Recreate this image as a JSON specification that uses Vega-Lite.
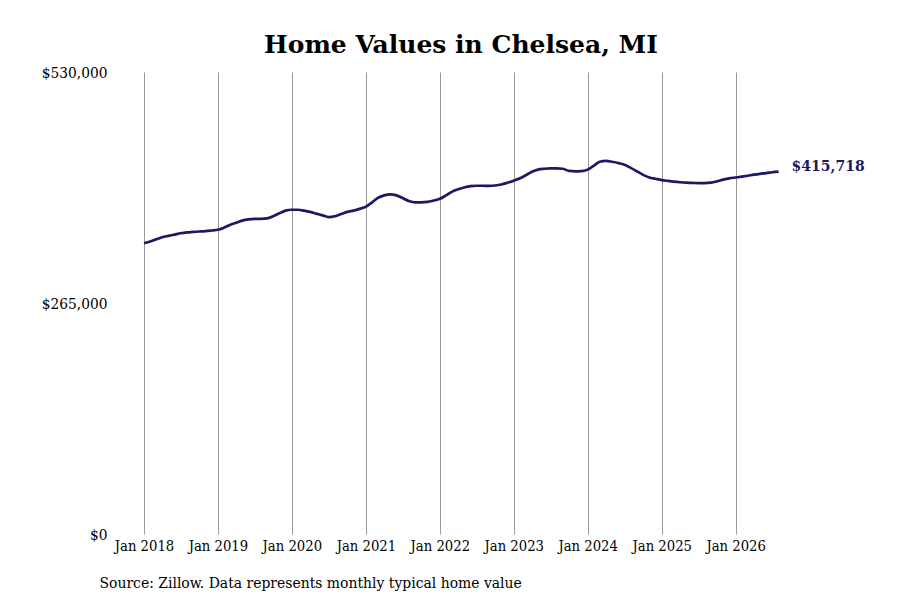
{
  "$schema": "https://vega.github.io/schema/vega-lite/v6.json",
  "autosize": "none",
  "width": 668,
  "height": 462,
  "padding": {"left": 112, "top": 72, "right": 120, "bottom": 66},
  "background": "white",
  "title": {
    "text": "Home Values in Chelsea, MI",
    "font": "DejaVu Serif",
    "fontSize": 25,
    "fontWeight": "bold",
    "color": "#000000",
    "anchor": "middle",
    "frame": "group",
    "dx": 15,
    "offset": 17,
    "dy": 10
  },
  "data": {
    "values": [
      {"date": "2018-01-01T00:00", "value": 333500},
      {"date": "2018-02-01T00:00", "value": 335500},
      {"date": "2018-03-01T00:00", "value": 338000},
      {"date": "2018-04-01T00:00", "value": 340500},
      {"date": "2018-05-01T00:00", "value": 342000},
      {"date": "2018-06-01T00:00", "value": 343500},
      {"date": "2018-07-01T00:00", "value": 345000},
      {"date": "2018-08-01T00:00", "value": 346000},
      {"date": "2018-09-01T00:00", "value": 346500},
      {"date": "2018-10-01T00:00", "value": 347000},
      {"date": "2018-11-01T00:00", "value": 347500},
      {"date": "2018-12-01T00:00", "value": 348200},
      {"date": "2019-01-01T00:00", "value": 349000},
      {"date": "2019-02-01T00:00", "value": 351500},
      {"date": "2019-03-01T00:00", "value": 354500},
      {"date": "2019-04-01T00:00", "value": 357000},
      {"date": "2019-05-01T00:00", "value": 359500},
      {"date": "2019-06-01T00:00", "value": 361000},
      {"date": "2019-07-01T00:00", "value": 361500},
      {"date": "2019-08-01T00:00", "value": 361500},
      {"date": "2019-09-01T00:00", "value": 362000},
      {"date": "2019-10-01T00:00", "value": 364500},
      {"date": "2019-11-01T00:00", "value": 368000},
      {"date": "2019-12-01T00:00", "value": 371000},
      {"date": "2020-01-01T00:00", "value": 372000},
      {"date": "2020-02-01T00:00", "value": 372000},
      {"date": "2020-03-01T00:00", "value": 371000},
      {"date": "2020-04-01T00:00", "value": 369500},
      {"date": "2020-05-01T00:00", "value": 367500},
      {"date": "2020-06-01T00:00", "value": 365500},
      {"date": "2020-07-01T00:00", "value": 363500},
      {"date": "2020-08-01T00:00", "value": 364500},
      {"date": "2020-09-01T00:00", "value": 367000},
      {"date": "2020-10-01T00:00", "value": 369500},
      {"date": "2020-11-01T00:00", "value": 371000},
      {"date": "2020-12-01T00:00", "value": 373000},
      {"date": "2021-01-01T00:00", "value": 375500},
      {"date": "2021-02-01T00:00", "value": 380500},
      {"date": "2021-03-01T00:00", "value": 385500},
      {"date": "2021-04-01T00:00", "value": 388500},
      {"date": "2021-05-01T00:00", "value": 389700},
      {"date": "2021-06-01T00:00", "value": 388500},
      {"date": "2021-07-01T00:00", "value": 385500},
      {"date": "2021-08-01T00:00", "value": 382000},
      {"date": "2021-09-01T00:00", "value": 380500},
      {"date": "2021-10-01T00:00", "value": 380500},
      {"date": "2021-11-01T00:00", "value": 381000},
      {"date": "2021-12-01T00:00", "value": 382500},
      {"date": "2022-01-01T00:00", "value": 384500},
      {"date": "2022-02-01T00:00", "value": 388500},
      {"date": "2022-03-01T00:00", "value": 392500},
      {"date": "2022-04-01T00:00", "value": 395500},
      {"date": "2022-05-01T00:00", "value": 397500},
      {"date": "2022-06-01T00:00", "value": 399000},
      {"date": "2022-07-01T00:00", "value": 399500},
      {"date": "2022-08-01T00:00", "value": 399500},
      {"date": "2022-09-01T00:00", "value": 399300},
      {"date": "2022-10-01T00:00", "value": 399800},
      {"date": "2022-11-01T00:00", "value": 401000},
      {"date": "2022-12-01T00:00", "value": 403000},
      {"date": "2023-01-01T00:00", "value": 405300},
      {"date": "2023-02-01T00:00", "value": 408000},
      {"date": "2023-03-01T00:00", "value": 411500},
      {"date": "2023-04-01T00:00", "value": 415500},
      {"date": "2023-05-01T00:00", "value": 418000},
      {"date": "2023-06-01T00:00", "value": 419000},
      {"date": "2023-07-01T00:00", "value": 419500},
      {"date": "2023-08-01T00:00", "value": 419500},
      {"date": "2023-09-01T00:00", "value": 419000},
      {"date": "2023-10-01T00:00", "value": 416500},
      {"date": "2023-11-01T00:00", "value": 416000},
      {"date": "2023-12-01T00:00", "value": 416200},
      {"date": "2024-01-01T00:00", "value": 418000},
      {"date": "2024-02-01T00:00", "value": 422500},
      {"date": "2024-03-01T00:00", "value": 427000},
      {"date": "2024-04-01T00:00", "value": 428000},
      {"date": "2024-05-01T00:00", "value": 427000},
      {"date": "2024-06-01T00:00", "value": 425500},
      {"date": "2024-07-01T00:00", "value": 423500},
      {"date": "2024-08-01T00:00", "value": 420000},
      {"date": "2024-09-01T00:00", "value": 416000},
      {"date": "2024-10-01T00:00", "value": 412000},
      {"date": "2024-11-01T00:00", "value": 409000},
      {"date": "2024-12-01T00:00", "value": 407500},
      {"date": "2025-01-01T00:00", "value": 406000},
      {"date": "2025-02-01T00:00", "value": 405000},
      {"date": "2025-03-01T00:00", "value": 404200},
      {"date": "2025-04-01T00:00", "value": 403500},
      {"date": "2025-05-01T00:00", "value": 403000},
      {"date": "2025-06-01T00:00", "value": 402800},
      {"date": "2025-07-01T00:00", "value": 402500},
      {"date": "2025-08-01T00:00", "value": 402500},
      {"date": "2025-09-01T00:00", "value": 403000},
      {"date": "2025-10-01T00:00", "value": 404500},
      {"date": "2025-11-01T00:00", "value": 406500},
      {"date": "2025-12-01T00:00", "value": 408000},
      {"date": "2026-01-01T00:00", "value": 409000},
      {"date": "2026-02-01T00:00", "value": 410000},
      {"date": "2026-03-01T00:00", "value": 411000},
      {"date": "2026-04-01T00:00", "value": 412200},
      {"date": "2026-05-01T00:00", "value": 413200},
      {"date": "2026-06-01T00:00", "value": 414000},
      {"date": "2026-07-01T00:00", "value": 415000},
      {"date": "2026-08-01T00:00", "value": 415718}
    ]
  },
  "encoding": {
    "x": {
      "field": "date",
      "type": "temporal",
      "title": "Source: Zillow. Data represents monthly typical home value",
      "scale": {
        "domain": [
          {"year": 2017, "month": 7, "date": 27},
          {"year": 2026, "month": 8, "date": 8}
        ]
      },
      "axis": {
        "format": "%b %Y",
        "tickCount": {"interval": "year", "step": 1},
        "grid": true,
        "gridColor": "#9a9a9a",
        "gridWidth": 1,
        "domain": false,
        "ticks": false,
        "labelPadding": 4,
        "labelFontSize": 14.7,
        "labelFlush": false,
        "labelOverlap": false,
        "titleAnchor": "start",
        "titleAlign": "left",
        "titleBaseline": "alphabetic",
        "titleX": -13,
        "titleY": 53,
        "titleFontSize": 15.5,
        "titleFontWeight": "normal"
      }
    },
    "y": {
      "field": "value",
      "type": "quantitative",
      "title": null,
      "scale": {"domain": [0, 530000], "nice": false, "zero": true},
      "axis": {
        "values": [0, 265000, 530000],
        "format": "$,.0f",
        "grid": false,
        "domain": false,
        "ticks": false,
        "labelPadding": 5,
        "labelFontSize": 15.3,
        "labelFlush": false
      }
    }
  },
  "layer": [
    {
      "mark": {
        "type": "line",
        "color": "#1a1a60",
        "strokeWidth": 2.7,
        "interpolate": "monotone"
      }
    },
    {
      "transform": [{"filter": "datum.value == 415718"}],
      "mark": {
        "type": "text",
        "align": "left",
        "baseline": "middle",
        "dx": 13,
        "dy": -5,
        "font": "DejaVu Serif",
        "fontSize": 14,
        "fontWeight": "bold",
        "color": "#1a1a60"
      },
      "encoding": {
        "text": {"field": "value", "type": "quantitative", "format": "$,.0f"}
      }
    }
  ],
  "config": {
    "view": {"stroke": null},
    "axis": {
      "labelFont": "DejaVu Serif Condensed, DejaVu Serif",
      "labelFontSize": 14,
      "labelColor": "#000000",
      "titleFont": "DejaVu Serif Condensed, DejaVu Serif",
      "titleFontSize": 14,
      "titleColor": "#000000"
    }
  }
}
